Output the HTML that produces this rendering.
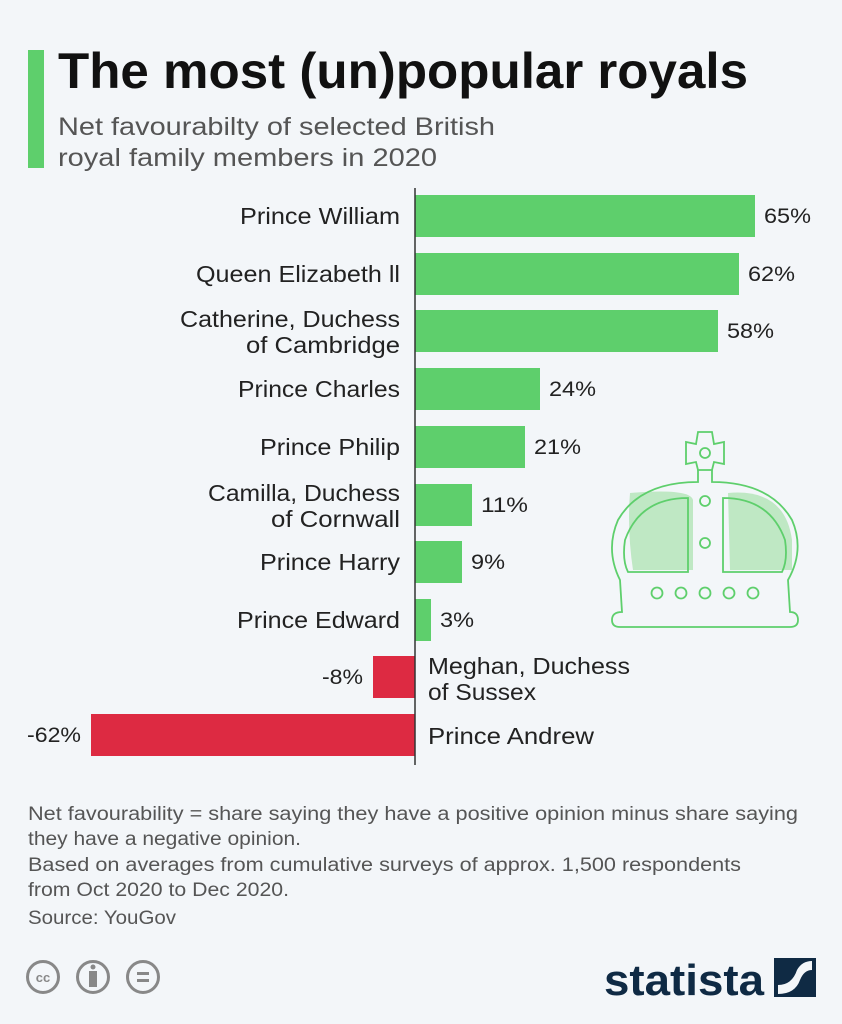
<!DOCTYPE html>
<html><head><meta charset="utf-8"><style>
body{margin:0;background:#f3f6f9;}
svg{display:block;font-family:"Liberation Sans",sans-serif;}
</style></head><body>
<svg width="842" height="1024" viewBox="0 0 842 1024" xmlns="http://www.w3.org/2000/svg">
<rect width="842" height="1024" fill="#f3f6f9"/>
<rect x="28" y="50" width="16" height="118" fill="#5ecf6c"/>
<text x="58" y="88" font-size="50" font-weight="bold" fill="#111" textLength="690" lengthAdjust="spacingAndGlyphs">The most (un)popular royals</text>
<text x="58" y="135" font-size="25" fill="#555" textLength="437" lengthAdjust="spacingAndGlyphs">Net favourabilty of selected British</text>
<text x="58" y="166" font-size="25" fill="#555" textLength="379" lengthAdjust="spacingAndGlyphs">royal family members in 2020</text>

<g fill="#5ecf6c">
<rect x="415" y="195" width="340" height="42"/>
<rect x="415" y="253" width="324" height="42"/>
<rect x="415" y="310" width="303" height="42"/>
<rect x="415" y="368" width="125" height="42"/>
<rect x="415" y="426" width="110" height="42"/>
<rect x="415" y="484" width="57" height="42"/>
<rect x="415" y="541" width="47" height="42"/>
<rect x="415" y="599" width="16" height="42"/>
</g>
<g fill="#dd2a42">
<rect x="373" y="656" width="42" height="42"/>
<rect x="91" y="714" width="324" height="42"/>
</g>
<line x1="415" y1="188" x2="415" y2="765" stroke="#333" stroke-width="1.5"/>

<g font-size="23" fill="#222">
<text x="240" y="224" textLength="160" lengthAdjust="spacingAndGlyphs">Prince William</text>
<text x="196" y="282" textLength="204" lengthAdjust="spacingAndGlyphs">Queen Elizabeth ll</text>
<text x="180" y="327" textLength="220" lengthAdjust="spacingAndGlyphs">Catherine, Duchess</text>
<text x="246" y="353" textLength="154" lengthAdjust="spacingAndGlyphs">of Cambridge</text>
<text x="238" y="397" textLength="162" lengthAdjust="spacingAndGlyphs">Prince Charles</text>
<text x="260" y="455" textLength="140" lengthAdjust="spacingAndGlyphs">Prince Philip</text>
<text x="208" y="501" textLength="192" lengthAdjust="spacingAndGlyphs">Camilla, Duchess</text>
<text x="271" y="527" textLength="129" lengthAdjust="spacingAndGlyphs">of Cornwall</text>
<text x="260" y="570" textLength="140" lengthAdjust="spacingAndGlyphs">Prince Harry</text>
<text x="237" y="628" textLength="163" lengthAdjust="spacingAndGlyphs">Prince Edward</text>
<text x="428" y="674" textLength="202" lengthAdjust="spacingAndGlyphs">Meghan, Duchess</text>
<text x="428" y="700" textLength="108" lengthAdjust="spacingAndGlyphs">of Sussex</text>
<text x="428" y="744" textLength="166" lengthAdjust="spacingAndGlyphs">Prince Andrew</text>
</g>
<g font-size="21" fill="#222">
<text x="764" y="223" textLength="47" lengthAdjust="spacingAndGlyphs">65%</text>
<text x="748" y="281" textLength="47" lengthAdjust="spacingAndGlyphs">62%</text>
<text x="727" y="338" textLength="47" lengthAdjust="spacingAndGlyphs">58%</text>
<text x="549" y="396" textLength="47" lengthAdjust="spacingAndGlyphs">24%</text>
<text x="534" y="454" textLength="47" lengthAdjust="spacingAndGlyphs">21%</text>
<text x="481" y="512" textLength="47" lengthAdjust="spacingAndGlyphs">11%</text>
<text x="471" y="569" textLength="34" lengthAdjust="spacingAndGlyphs">9%</text>
<text x="440" y="627" textLength="34" lengthAdjust="spacingAndGlyphs">3%</text>
<text x="322" y="684" textLength="41" lengthAdjust="spacingAndGlyphs">-8%</text>
<text x="27" y="742" textLength="54" lengthAdjust="spacingAndGlyphs">-62%</text>
</g>

<g fill="none" stroke="#5ecf6c" stroke-width="1.8">
<path d="M630 493 Q690 488 693 500 L693 570 L633 570 Q627 530 630 493Z" fill="#bfe8c4" stroke="none"/>
<path d="M728 493 Q785 488 792 540 L792 570 L730 570Z" fill="#bfe8c4" stroke="none"/>
<path d="M688 498 Q640 498 625 540 Q622 560 628 572 L688 572Z"/>
<path d="M723 498 Q770 498 785 540 Q788 560 782 572 L723 572Z"/>
<path d="M698 470 L698 482 Q640 482 618 520 Q605 550 620 580 L622 612 Q612 612 612 620 Q612 627 620 627 L790 627 Q798 627 798 620 Q798 612 790 612 L788 580 Q805 550 792 520 Q770 482 712 482 L712 470"/>
<path d="M698 470 L696 462 L686 464 L686 442 L696 444 L698 432 L712 432 L714 444 L724 442 L724 464 L714 462 L712 470Z"/>
<circle cx="705" cy="453" r="5"/>
<circle cx="705" cy="501" r="5"/>
<circle cx="705" cy="543" r="5"/>
<circle cx="657" cy="593" r="5.5"/><circle cx="681" cy="593" r="5.5"/><circle cx="705" cy="593" r="5.5"/><circle cx="729" cy="593" r="5.5"/><circle cx="753" cy="593" r="5.5"/>
</g>

<g font-size="19" fill="#555">
<text x="28" y="820" textLength="770" lengthAdjust="spacingAndGlyphs">Net favourability = share saying they have a positive opinion minus share saying</text>
<text x="28" y="845" textLength="273" lengthAdjust="spacingAndGlyphs">they have a negative opinion.</text>
<text x="28" y="871" textLength="713" lengthAdjust="spacingAndGlyphs">Based on averages from cumulative surveys of approx. 1,500 respondents</text>
<text x="28" y="896" textLength="261" lengthAdjust="spacingAndGlyphs">from Oct 2020 to Dec 2020.</text>
<text x="28" y="924" textLength="148" lengthAdjust="spacingAndGlyphs">Source: YouGov</text>
</g>

<g stroke="#888" stroke-width="3" fill="none">
<circle cx="43" cy="977" r="15.5"/>
<circle cx="93" cy="977" r="15.5"/>
<circle cx="143" cy="977" r="15.5"/>
</g>
<text x="43" y="982" font-size="13" font-weight="bold" fill="#888" text-anchor="middle">cc</text>
<circle cx="93" cy="967" r="2.5" fill="#888"/>
<rect x="89" y="971" width="8" height="16" fill="#888"/>
<rect x="137" y="972" width="12" height="3" fill="#888"/>
<rect x="137" y="979" width="12" height="3" fill="#888"/>

<text x="604" y="995" font-size="44" font-weight="bold" fill="#0f2a44" textLength="160" lengthAdjust="spacingAndGlyphs">statista</text>
<rect x="774" y="958" width="42" height="39" fill="#0f2a44"/>
<path d="M778 994 L778 985 Q792 985 797 970 Q802 961 812 961 L812 970 Q804 970 800 980 Q795 994 778 994Z" fill="#f3f6f9"/>
</svg>
</body></html>
